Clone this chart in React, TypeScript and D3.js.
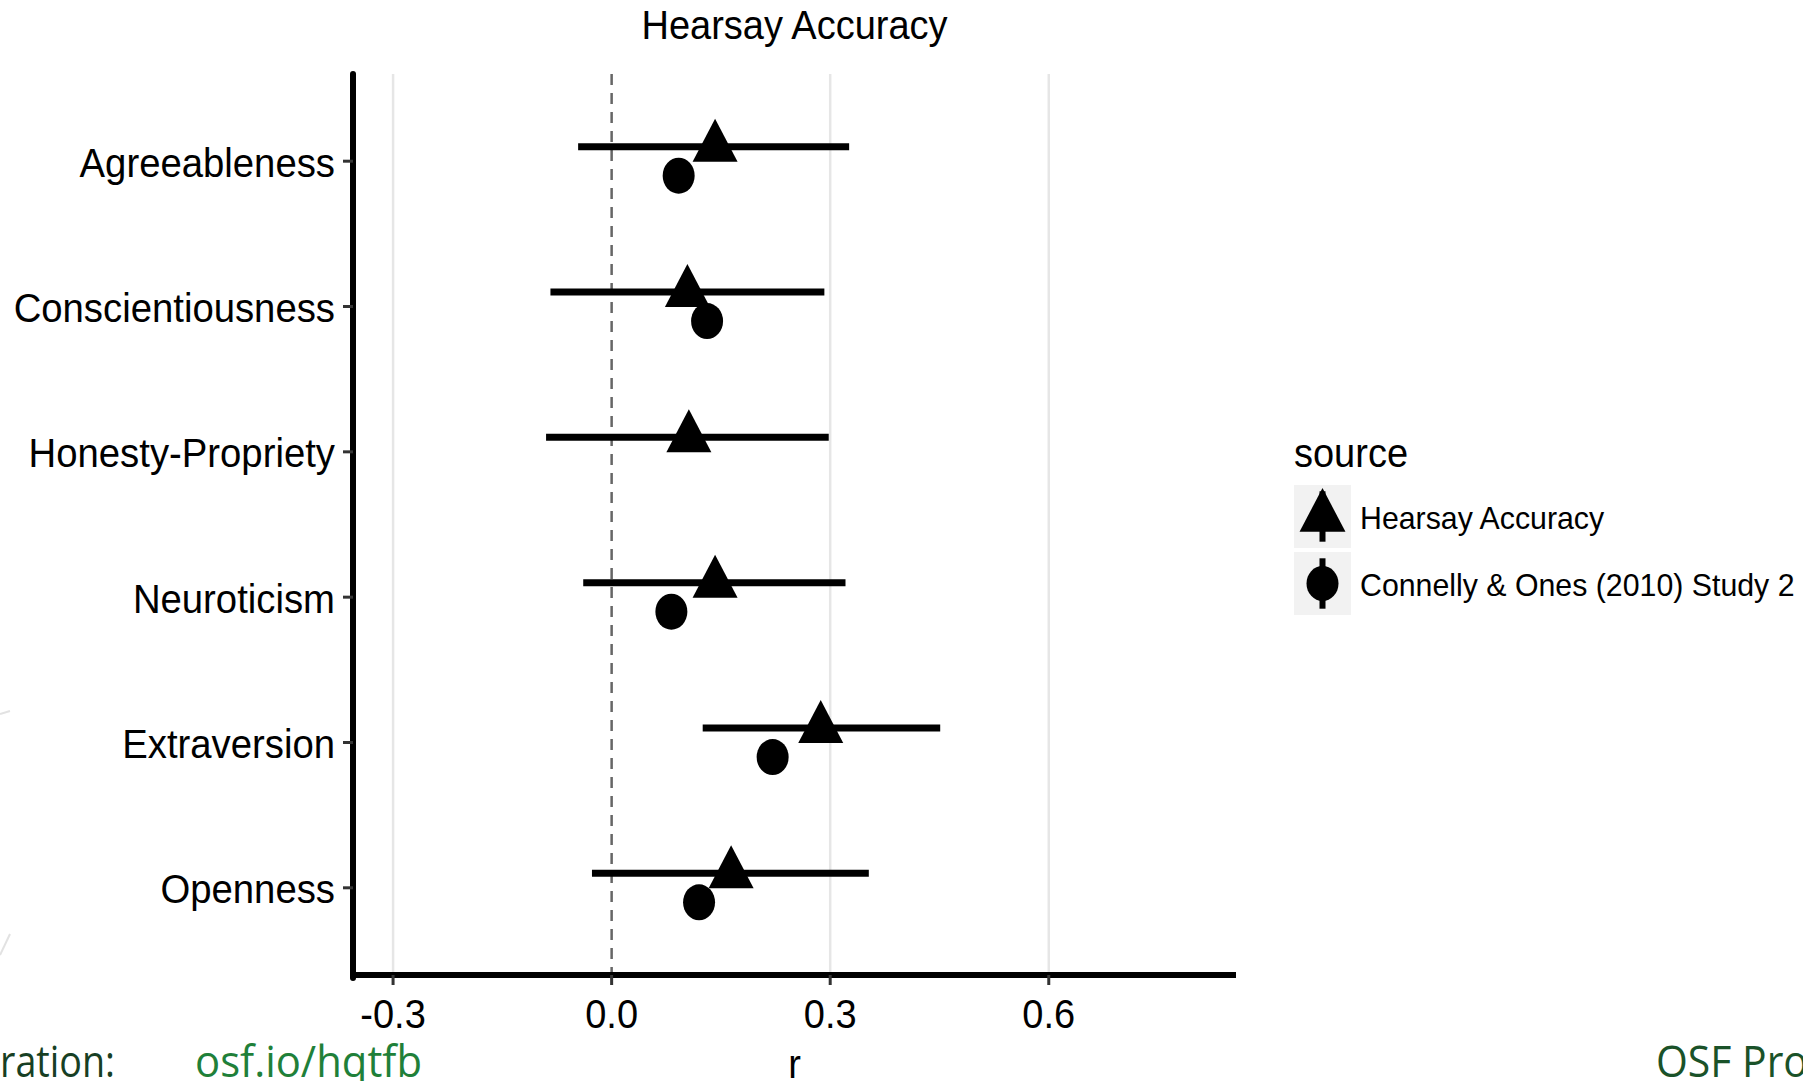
import React from "react";
import * as d3 from "d3";

const categories = [
  "Agreeableness",
  "Conscientiousness",
  "Honesty-Propriety",
  "Neuroticism",
  "Extraversion",
  "Openness",
];
const hearsayR = [0.142, 0.104, 0.106, 0.142, 0.287, 0.164];
const hearsayLow = [-0.046, -0.084, -0.09, -0.039, 0.125, -0.027];
const hearsayHigh = [0.326, 0.292, 0.298, 0.321, 0.451, 0.353];
const connellyR: (number | null)[] = [0.092, 0.131, null, 0.082, 0.221, 0.12];
const xTicks = [-0.3, 0, 0.3, 0.6];
const seriesNames = ["Hearsay Accuracy", "Connelly & Ones (2010) Study 2"];

const W = 1803;
const H = 1081;
const FONT = "'Liberation Sans', Arial, Helvetica, sans-serif";
const SY = 1.06;

function trianglePath(cx: number, cy: number, s = 1) {
  const top = 28 * s, base = 15 * s, hw = 22.5 * s;
  return `M${cx},${cy - top}L${cx + hw},${cy + base}L${cx - hw},${cy + base}Z`;
}

function T(props: { x: number; y: number; size: number; anchor?: string; children: React.ReactNode }) {
  return (
    <text
      transform={`translate(${props.x},${props.y}) scale(1,${SY})`}
      fontSize={props.size}
      textAnchor={props.anchor || "start"}
      fill="#000"
    >
      {props.children}
    </text>
  );
}

export default function App() {
  const left = 353, right = 1236, top = 74, bottom = 975;
  const x = d3.scaleLinear().domain([-0.355, 0.857]).range([left, right]);
  const y = d3.scalePoint<string>().domain(categories).range([top, bottom]).padding(0.6);
  const dodge = y.step() * 0.1;
  const fmt = (v: number) => v.toFixed(1);

  const keyX = 1294, keyW = 57, keyH = 63;
  const keyY = [485, 552];

  return (
    <svg
      width={W}
      height={H}
      style={{ position: "absolute", left: 0, top: 0, background: "#fff" }}
      fontFamily={FONT}
    >
      <rect x={0} y={0} width={W} height={H} fill="#fff" />
      {/* faint slide decoration */}
      <path d="M0,714 L10,711" stroke="#e2e2e2" strokeWidth={2} fill="none" />
      <path d="M0,955 L10,934" stroke="#e2e2e2" strokeWidth={2} fill="none" />

      {/* title */}
      <T x={(left + right) / 2} y={39} size={38} anchor="middle">Hearsay Accuracy</T>

      {/* gridlines */}
      {xTicks.filter((t) => t !== 0).map((t) => (
        <line key={t} x1={x(t)} x2={x(t)} y1={top} y2={bottom} stroke="#e6e6e6" strokeWidth={2.5} />
      ))}
      {/* zero reference */}
      <line x1={x(0)} x2={x(0)} y1={top} y2={bottom} stroke="#666" strokeWidth={2.5} strokeDasharray="11 8" />

      {/* axes */}
      <line x1={left} x2={left} y1={top} y2={bottom + 3} stroke="#000" strokeWidth={6} strokeLinecap="round" />
      <line x1={left - 3} x2={right} y1={bottom} y2={bottom} stroke="#000" strokeWidth={6} />

      {/* y ticks & labels */}
      {categories.map((c) => (
        <g key={c}>
          <line x1={left - 10} x2={left} y1={y(c)} y2={y(c)} stroke="#333" strokeWidth={3} />
          <T x={335} y={(y(c) as number) + 15.5} size={38.3} anchor="end">{c}</T>
        </g>
      ))}

      {/* x ticks & labels */}
      {xTicks.map((t) => (
        <g key={t}>
          <line x1={x(t)} x2={x(t)} y1={bottom} y2={bottom + 10} stroke="#333" strokeWidth={3} />
          <T x={x(t)} y={1028} size={38} anchor="middle">{fmt(t)}</T>
        </g>
      ))}
      <T x={(left + right) / 2} y={1078} size={38} anchor="middle">r</T>

      {/* hearsay series */}
      {categories.map((c, i) => {
        const cy = (y(c) as number) - dodge;
        return (
          <g key={"h" + c}>
            <line x1={x(hearsayLow[i])} x2={x(hearsayHigh[i])} y1={cy} y2={cy} stroke="#000" strokeWidth={7} />
            <path d={trianglePath(x(hearsayR[i]), cy)} fill="#000" />
          </g>
        );
      })}
      {/* connelly series */}
      {categories.map((c, i) => {
        const v = connellyR[i];
        if (v === null) return null;
        const cy = (y(c) as number) + dodge;
        return <ellipse key={"c" + c} cx={x(v)} cy={cy} rx={16} ry={18} fill="#000" />;
      })}

      {/* legend */}
      <T x={keyX} y={467} size={38}>source</T>
      {seriesNames.map((name, i) => {
        const ky = keyY[i];
        const cx = keyX + keyW / 2;
        const cy = ky + keyH / 2;
        return (
          <g key={name}>
            <rect x={keyX} y={ky} width={keyW} height={keyH} fill="#f2f2f2" />
            <line x1={cx} x2={cx} y1={ky + keyH * 0.1} y2={ky + keyH * 0.9} stroke="#000" strokeWidth={6} />
            {i === 0 ? (
              <path d={trianglePath(cx, cy, 1.02)} fill="#000" />
            ) : (
              <ellipse cx={cx} cy={cy} rx={16} ry={17.5} fill="#000" />
            )}
            <T x={1360} y={cy + 12} size={30.3}>{name}</T>
          </g>
        );
      })}

      {/* slide footer fragments */}
      <text x={0} y={1077} fontSize={44} fontFamily="'Open Sans', sans-serif" fill="#173f24" textLength={115} lengthAdjust="spacingAndGlyphs">
        ration:
      </text>
      <text x={195} y={1077} fontSize={44} fontFamily="'Open Sans', sans-serif" fill="#1f8039" textLength={227} lengthAdjust="spacingAndGlyphs">
        osf.io/hqtfb
      </text>
      <text x={1656} y={1077} fontSize={44} fontFamily="'Open Sans', sans-serif" fill="#1a5229" textLength={152} lengthAdjust="spacingAndGlyphs">
        OSF Pro
      </text>
    </svg>
  );
}
